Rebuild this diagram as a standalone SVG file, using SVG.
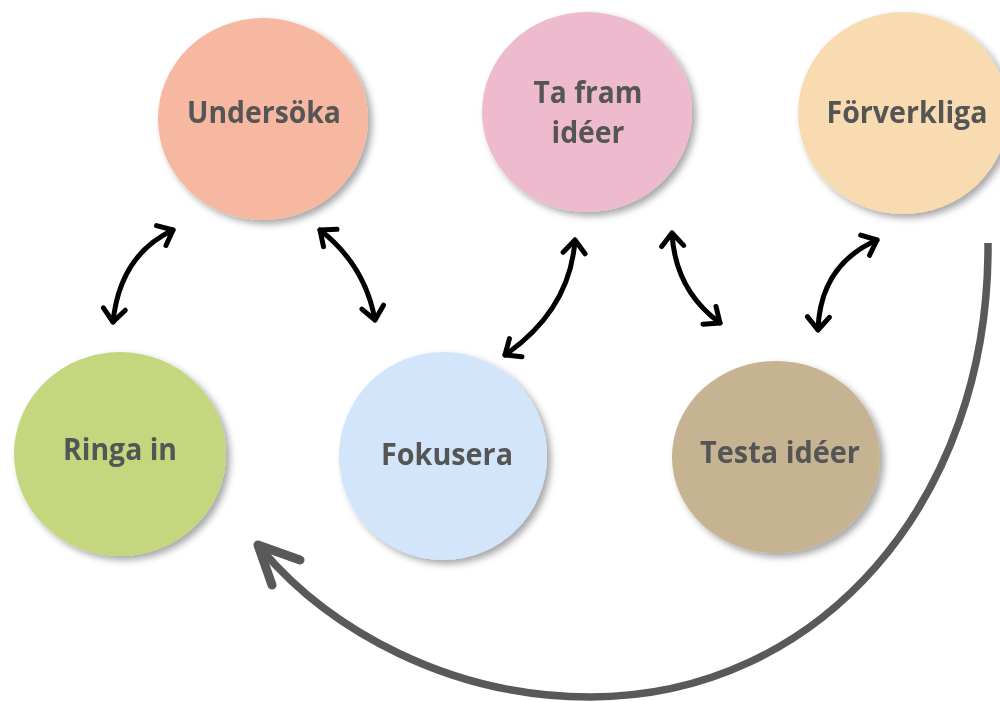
<svg xmlns="http://www.w3.org/2000/svg" width="1000" height="702" viewBox="0 0 1000 702">
<style>
.lbl{font-family:"Open Sans","Liberation Sans",sans-serif;font-weight:700;font-size:30px;fill:#555555;text-anchor:middle}
.node{filter:url(#sh)}
.dbl{fill:none;stroke:#000;stroke-width:5;stroke-linecap:round;marker-start:url(#hd);marker-end:url(#hd)}
</style>
<defs>
<filter id="sh" x="-20%" y="-20%" width="150%" height="150%">
<feDropShadow dx="4" dy="4" stdDeviation="3.5" flood-color="#000" flood-opacity="0.35"/>
</filter>
<marker id="hd" markerUnits="userSpaceOnUse" viewBox="-20 -14 24 28" markerWidth="24" markerHeight="28" refX="0" refY="0" orient="auto-start-reverse">
<path d="M -13 -11 L 0 0 L -13 11" fill="none" stroke="#000" stroke-width="5" stroke-linecap="round" stroke-linejoin="round"/>
</marker>
</defs>
<rect width="1000" height="702" fill="#ffffff"/>
<g id="connectors">
<path class="dbl" d="M 113 322 Q 120 255 173 230"/>
<path class="dbl" d="M 320 230 Q 365 265 375 320"/>
<path class="dbl" d="M 505 355 Q 570 310 575 240"/>
<path class="dbl" d="M 672 233 Q 675 290 720 323"/>
<path class="dbl" d="M 877 240 Q 820 265 818 330"/>
<path d="M 988 243 C 990 500 820 697 590 697 C 450 697 330 630 262 550" fill="none" stroke="#595959" stroke-width="7.5"/>
<polyline points="272,585 258,545 300,560" fill="none" stroke="#595959" stroke-width="9" stroke-linecap="round" stroke-linejoin="round"/>
</g>
<g id="undersoka" class="node">
<ellipse cx="263" cy="119" rx="105" ry="101" fill="#F6B8A0"/>
<text class="lbl" x="264" y="123" textLength="154" lengthAdjust="spacingAndGlyphs">Undersöka</text>
</g>
<g id="tafram" class="node">
<ellipse cx="587" cy="112" rx="105" ry="100" fill="#EEBBCE"/>
<text class="lbl" x="588" y="103" textLength="109" lengthAdjust="spacingAndGlyphs">Ta fram</text>
<text class="lbl" x="588" y="143" textLength="73" lengthAdjust="spacingAndGlyphs">idéer</text>
</g>
<g id="forverkliga" class="node">
<ellipse cx="903" cy="113" rx="105" ry="101" fill="#F8DBB0"/>
<text class="lbl" x="907" y="123" textLength="161" lengthAdjust="spacingAndGlyphs">Förverkliga</text>
</g>
<g id="ringain" class="node">
<ellipse cx="120" cy="454" rx="106" ry="102" fill="#C4D67E"/>
<text class="lbl" x="120" y="460" textLength="114" lengthAdjust="spacingAndGlyphs">Ringa in</text>
</g>
<g id="fokusera" class="node">
<ellipse cx="443" cy="456" rx="104" ry="104" fill="#D2E5FA"/>
<text class="lbl" x="447" y="465" textLength="132" lengthAdjust="spacingAndGlyphs">Fokusera</text>
</g>
<g id="testa" class="node">
<ellipse cx="776" cy="457" rx="104" ry="96" fill="#C5B391"/>
<text class="lbl" x="780" y="463" textLength="160" lengthAdjust="spacingAndGlyphs">Testa idéer</text>
</g>
</svg>
